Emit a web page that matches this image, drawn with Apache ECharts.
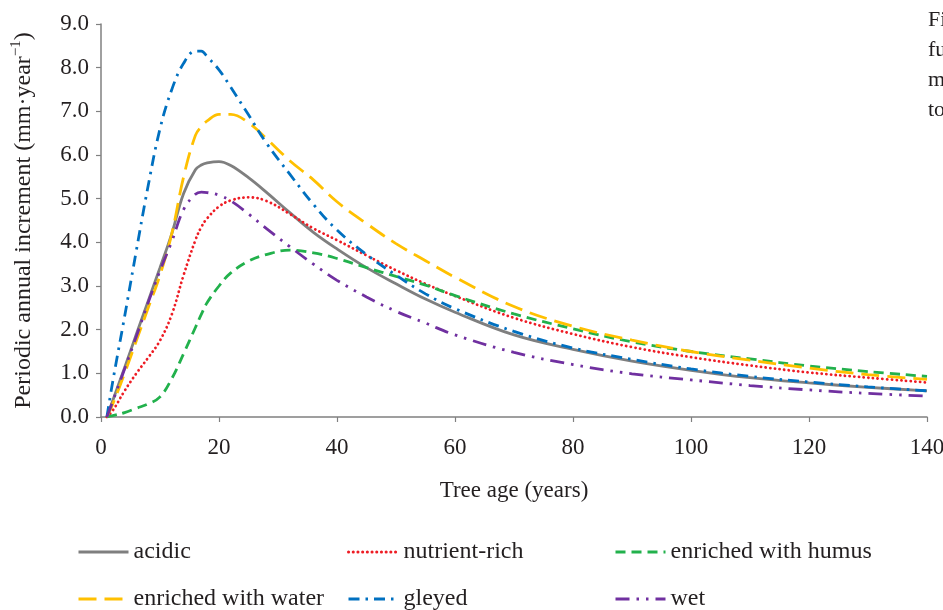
<!DOCTYPE html>
<html>
<head>
<meta charset="utf-8">
<script src="https://cdn.jsdelivr.net/npm/echarts@6/dist/echarts.min.js"></script>
<style>
  html, body { margin: 0; padding: 0; background: #fff; }
  #chart { width: 943px; height: 610px; }
</style>
</head>
<body>
<div id="chart"></div>
<script>
// tree age (years), shared by every curve
const ages = [1, 2, 4, 6, 8, 10, 12, 14, 16, 17, 18, 20, 22, 25, 28, 32, 36, 40, 45, 50, 55, 60, 70, 80, 90, 100, 110, 120, 130, 140];

// periodic annual increment (mm/year)
const acidic = [0, 0.38, 1.13, 1.9, 2.66, 3.42, 4.2, 5.12, 5.66, 5.77, 5.82, 5.85, 5.76, 5.48, 5.15, 4.68, 4.23, 3.85, 3.42, 3.05, 2.7, 2.4, 1.88, 1.55, 1.28, 1.07, 0.9, 0.78, 0.68, 0.6];
const nutrientRich = [0, 0.15, 0.6, 1.0, 1.36, 1.75, 2.35, 3.25, 4.05, 4.35, 4.55, 4.82, 4.96, 5.03, 4.95, 4.65, 4.32, 4.05, 3.7, 3.36, 3.05, 2.77, 2.27, 1.9, 1.6, 1.37, 1.18, 1.02, 0.9, 0.79];
const humus = [0, 0.03, 0.1, 0.2, 0.3, 0.46, 0.88, 1.45, 2.05, 2.35, 2.62, 3.0, 3.3, 3.57, 3.72, 3.82, 3.76, 3.63, 3.42, 3.22, 3.02, 2.78, 2.36, 2.02, 1.72, 1.5, 1.33, 1.17, 1.04, 0.93];
const water = [0, 0.3, 1.0, 1.75, 2.5, 3.25, 4.2, 5.5, 6.45, 6.65, 6.78, 6.93, 6.93, 6.74, 6.38, 5.87, 5.43, 4.93, 4.43, 3.97, 3.58, 3.2, 2.53, 2.08, 1.76, 1.5, 1.3, 1.12, 0.97, 0.86];
const gleyed = [0, 0.82, 2.3, 3.82, 5.3, 6.6, 7.5, 8.1, 8.38, 8.38, 8.25, 7.95, 7.55, 6.92, 6.28, 5.56, 4.87, 4.28, 3.72, 3.25, 2.82, 2.48, 1.96, 1.58, 1.32, 1.1, 0.93, 0.8, 0.69, 0.6];
const wet = [0, 0.36, 1.1, 1.85, 2.62, 3.35, 4.02, 4.75, 5.1, 5.15, 5.14, 5.08, 4.95, 4.65, 4.32, 3.9, 3.5, 3.13, 2.75, 2.42, 2.15, 1.88, 1.48, 1.2, 0.99, 0.85, 0.72, 0.62, 0.54, 0.48];

const xTicks = [0, 20, 40, 60, 80, 100, 120, 140];
const yTicks = [0, 1, 2, 3, 4, 5, 6, 7, 8, 9];

const captionBits = ['Fi', 'fu', 'm', 'to'];

const FONT = '"Liberation Serif", "DejaVu Serif", serif';
const INK = '#231f20';
const AXIS = '#808080';

function pairs(values) {
    return ages.map((a, i) => [a, values[i]]);
}

function makeLine(name, values, color, dash, cap) {
    return {
        name: name,
        type: 'line',
        data: pairs(values),
        smooth: 0.4,
        symbol: 'none',
        lineStyle: {
            color: color,
            width: 2.8,
            type: dash,
            cap: cap || 'butt'
        },
        itemStyle: { color: color },
        emphasis: { disabled: true }
    };
}

const series = [
    makeLine('acidic', acidic, '#7f7f7f', 'solid'),
    makeLine('nutrient-rich', nutrientRich, '#ee1c24', [0.1, 4.6], 'round'),
    makeLine('enriched with humus', humus, '#22b14c', [10, 6]),
    makeLine('enriched with water', water, '#ffc000', [18, 8]),
    makeLine('gleyed', gleyed, '#0070c0', [11, 6, 2.5, 6]),
    makeLine('wet', wet, '#7030a0', [14, 7, 2.5, 7, 2.5, 7])
];

// one legend per entry so the columns line up like the original
const legendSlots = [
    ['acidic', 77, 540],
    ['nutrient-rich', 347, 540],
    ['enriched with humus', 614, 540],
    ['enriched with water', 77, 587],
    ['gleyed', 347, 587],
    ['wet', 614, 587]
];

const legends = legendSlots.map(s => ({
    data: [s[0]],
    left: s[1],
    top: s[2],
    padding: 0,
    itemWidth: 50,
    itemHeight: 14,
    selectedMode: false,
    itemStyle: { opacity: 0 },
    lineStyle: { width: 3 },
    textStyle: { fontFamily: FONT, fontSize: 24, color: INK }
}));

const caption = captionBits.map((t, i) => ({
    type: 'text',
    left: 928,
    top: 9 + i * 30,
    style: { text: t, fontFamily: FONT, fontSize: 22, fill: INK }
}));

const chart = echarts.init(document.getElementById('chart'), null, { renderer: 'canvas' });

chart.setOption({
    backgroundColor: '#ffffff',
    animation: false,
    grid: { left: 101, right: 16, top: 24, bottom: 193, outerBoundsMode: 'none' },
    legend: legends,
    graphic: caption,
    xAxis: {
        type: 'value',
        min: xTicks[0],
        max: xTicks[xTicks.length - 1],
        interval: xTicks[1] - xTicks[0],
        name: 'Tree age (years)',
        nameLocation: 'middle',
        nameGap: 62,
        nameMoveOverlap: false,
        nameTextStyle: { fontFamily: FONT, fontSize: 23, color: INK },
        axisLine: { show: true, lineStyle: { color: AXIS, width: 1.5 } },
        axisTick: { show: true, inside: false, length: 5, lineStyle: { color: AXIS, width: 1.2 } },
        axisLabel: { margin: 19, fontFamily: FONT, fontSize: 23, color: INK },
        splitLine: { show: false }
    },
    yAxis: {
        type: 'value',
        min: yTicks[0],
        max: yTicks[yTicks.length - 1],
        interval: yTicks[1] - yTicks[0],
        name: '{a|Periodic annual increment (mm·year}{s|−1}{a|)}',
        nameLocation: 'middle',
        nameGap: 62,
        nameMoveOverlap: false,
        nameTextStyle: {
            fontFamily: FONT,
            fontSize: 24,
            color: INK,
            rich: {
                a: { fontFamily: FONT, fontSize: 24, color: INK, lineHeight: 30, verticalAlign: 'middle' },
                s: { fontFamily: FONT, fontSize: 15, color: INK, lineHeight: 30, verticalAlign: 'top' }
            }
        },
        axisLine: { show: true, lineStyle: { color: AXIS, width: 1.5 } },
        axisTick: { show: true, inside: false, length: 5, lineStyle: { color: AXIS, width: 1.2 } },
        axisLabel: {
            margin: 12,
            fontFamily: FONT,
            fontSize: 23,
            color: INK,
            formatter: v => v.toFixed(1)
        },
        splitLine: { show: false }
    },
    series: series
});
</script>
</body>
</html>
